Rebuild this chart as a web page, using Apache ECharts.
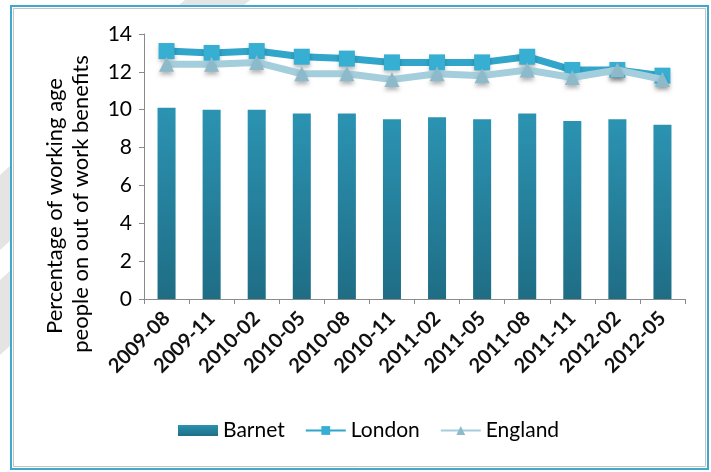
<!DOCTYPE html>
<html><head><meta charset="utf-8">
<script src="https://cdn.jsdelivr.net/npm/echarts@6/dist/echarts.min.js"></script>
<style>html,body{margin:0;padding:0;background:#fff}#c{width:711px;height:472px}</style>
</head><body><div id="c"></div>
<script>
var categories = ['2009-08','2009-11','2010-02','2010-05','2010-08','2010-11','2011-02','2011-05','2011-08','2011-11','2012-02','2012-05'];
var barnet  = [10.1, 10.0, 10.0, 9.8, 9.8, 9.5, 9.6, 9.5, 9.8, 9.4, 9.5, 9.2];
var london  = [13.1, 13.0, 13.1, 12.8, 12.7, 12.5, 12.5, 12.5, 12.8, 12.1, 12.1, 11.8];
var england = [12.4, 12.4, 12.5, 11.9, 11.9, 11.6, 11.9, 11.8, 12.1, 11.7, 12.1, 11.6];
var yTicks = [0, 2, 4, 6, 8, 10, 12, 14];
var yTitle = ['Percentage of working age', 'people on out of work benefits'];

var FONT = 'Lato, "Open Sans", sans-serif';
var chart = echarts.init(document.getElementById('c'));
chart.setOption({
  backgroundColor: '#fff',
  animation: false,
  graphic: [
    {type:'polygon', silent:true, z:-10, shape:{points:[[185,0],[250,0],[243,6],[178,6]]}, style:{fill:'#e4e4e4'}},
    {type:'polygon', silent:true, z:-10, shape:{points:[[0,175],[11,165],[11,240],[0,250]]}, style:{fill:'#e4e4e4'}},
    {type:'polygon', silent:true, z:-10, shape:{points:[[0,280],[11,270],[11,345],[0,355]]}, style:{fill:'#e4e4e4'}},
    {type:'rect', silent:true, shape:{x:11, y:6, width:697, height:463}, style:{fill:'none', stroke:'#3ea9cc', lineWidth:2}},
    {type:'rect', silent:true, shape:{x:13.5, y:8.5, width:692, height:458}, style:{fill:'none', stroke:'#c4c4c4', lineWidth:1}},
    {type:'text', silent:true, x:55, y:206, rotation:Math.PI/2, style:{text:yTitle[0], font:'22px ' + FONT, fill:'#000', align:'center', verticalAlign:'middle'}},
    {type:'text', silent:true, x:81, y:204, rotation:Math.PI/2, style:{text:yTitle[1], font:'22px ' + FONT, fill:'#000', align:'center', verticalAlign:'middle'}}
  ],
  grid: {left:144, right:26, top:34, bottom:173},
  legend: {
    bottom: 26, left: 173, itemGap: 20, itemWidth: 40, itemHeight: 11,
    textStyle: {fontFamily: FONT, fontSize: 21, color: '#000'},
    data: [
      {name:'Barnet', icon:'rect'},
      {name:'London'},
      {name:'England'}
    ]
  },
  xAxis: {
    type: 'category', data: categories, boundaryGap: true,
    axisLine: {lineStyle: {color: '#8a8a8a', width: 1}},
    axisTick: {show: true, alignWithLabel: false, length: 5, lineStyle: {color: '#8a8a8a'}},
    axisLabel: {rotate: 45, interval: 0, margin: 16, fontFamily: FONT, fontSize: 20, fontWeight: 'bold', color: '#111'}
  },
  yAxis: {
    type: 'value', min: yTicks[0], max: yTicks[yTicks.length-1], interval: 2,
    splitLine: {show: false},
    axisLine: {show: true, lineStyle: {color: '#8a8a8a', width: 1}},
    axisTick: {show: true, length: 5, lineStyle: {color: '#8a8a8a'}},
    axisLabel: {margin: 12, fontFamily: FONT, fontSize: 21, color: '#000'}
  },
  series: [
    {name:'Barnet', type:'bar', data: barnet, barWidth: '40%',
     itemStyle: {color: new echarts.graphic.LinearGradient(0,0,0,1,[{offset:0,color:'#2b93b2'},{offset:1,color:'#1f6d85'}])}},
    {name:'England', type:'line', data: england, symbol:'triangle', symbolSize: 15, z: 3,
     lineStyle: {color:'#a4cedc', width: 7},
     itemStyle: {color:'#8dbacb', shadowColor:'rgba(0,0,0,0.3)', shadowBlur:4, shadowOffsetY:3}},
    {name:'London', type:'line', data: london, symbol:'rect', symbolSize: 16, z: 2,
     lineStyle: {color:'#31a6ca', width: 7},
     itemStyle: {color:'#37afd2', shadowColor:'rgba(0,0,0,0.25)', shadowBlur:4, shadowOffsetY:3}}
  ]
});
</script></body></html>
